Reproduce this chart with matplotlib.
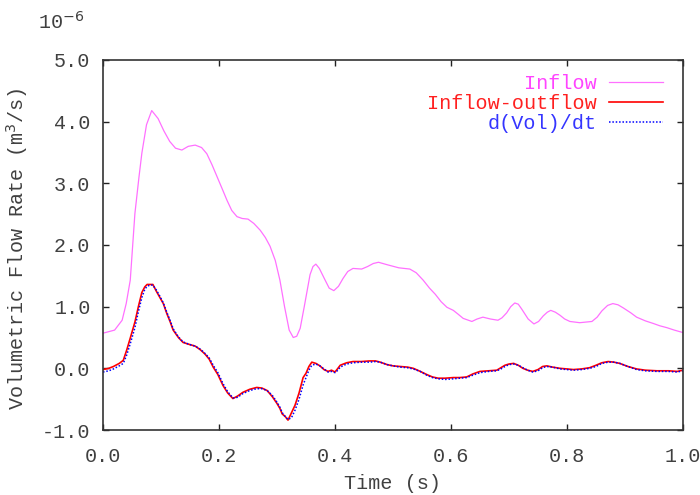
import matplotlib
matplotlib.use("Agg")
import matplotlib.pyplot as plt

# flow rates in units of 1e-6 m^3/s
t_inflow = [0.0, 0.02, 0.033, 0.04, 0.047, 0.055, 0.062, 0.067, 0.075, 0.084,
            0.095, 0.105, 0.115, 0.125, 0.136, 0.147, 0.159, 0.17, 0.179, 0.188,
            0.197, 0.206, 0.214, 0.222, 0.231, 0.24, 0.25, 0.26, 0.271, 0.28,
            0.288, 0.297, 0.305, 0.313, 0.321, 0.328, 0.334, 0.34, 0.347, 0.357,
            0.362, 0.367, 0.373, 0.383, 0.39, 0.398, 0.406, 0.414, 0.422, 0.431,
            0.446, 0.456, 0.466, 0.475, 0.49, 0.51, 0.529, 0.54, 0.552, 0.563,
            0.573, 0.583, 0.593, 0.604, 0.612, 0.621, 0.636, 0.645, 0.655, 0.668,
            0.681, 0.688, 0.696, 0.703, 0.71, 0.716, 0.722, 0.733, 0.743, 0.751,
            0.759, 0.766, 0.772, 0.78, 0.788, 0.796, 0.805, 0.822, 0.843, 0.852,
            0.86, 0.87, 0.879, 0.888, 0.897, 0.91, 0.92, 0.935, 0.948, 0.96,
            0.972, 0.985, 1.0]
inflow = [0.57, 0.62, 0.78, 1.05, 1.43, 2.51, 3.1, 3.49, 3.95, 4.18,
          4.05, 3.85, 3.68, 3.57, 3.54, 3.6, 3.62, 3.58, 3.48, 3.3,
          3.1, 2.9, 2.72, 2.56, 2.46, 2.43, 2.42, 2.35, 2.24, 2.12,
          1.98, 1.75, 1.43, 1.0, 0.62, 0.5, 0.52, 0.65, 1.0, 1.52,
          1.65, 1.69, 1.62, 1.43, 1.3, 1.26, 1.33, 1.46, 1.57, 1.62,
          1.61, 1.65, 1.7, 1.72, 1.68, 1.63, 1.61, 1.55, 1.43, 1.3,
          1.2, 1.08, 0.99, 0.94, 0.88, 0.81, 0.76, 0.8, 0.83, 0.8,
          0.78, 0.82, 0.9, 1.0, 1.06, 1.04, 0.96, 0.8, 0.72, 0.76,
          0.85, 0.91, 0.94, 0.91, 0.86, 0.8, 0.76, 0.74, 0.76, 0.83,
          0.93, 1.02, 1.05, 1.03, 0.98, 0.9, 0.83, 0.77, 0.73, 0.69,
          0.66, 0.62, 0.58]

t_net = [0.0, 0.01, 0.018, 0.028, 0.035, 0.041, 0.047, 0.055, 0.061, 0.067,
         0.072, 0.076, 0.081, 0.086, 0.092, 0.098, 0.104, 0.11, 0.116, 0.121,
         0.13, 0.138, 0.148, 0.159, 0.168, 0.176, 0.183, 0.19, 0.198, 0.207,
         0.215, 0.224, 0.232, 0.241, 0.253, 0.265, 0.274, 0.283, 0.292, 0.3,
         0.305, 0.309, 0.314, 0.319, 0.325, 0.331, 0.338, 0.345, 0.35, 0.355,
         0.36, 0.367, 0.374, 0.381, 0.388, 0.394, 0.4, 0.405, 0.409, 0.42,
         0.431, 0.445, 0.46, 0.47, 0.478, 0.49, 0.5, 0.512, 0.525, 0.535,
         0.547, 0.558, 0.568, 0.578, 0.59, 0.604, 0.615, 0.627, 0.638, 0.65,
         0.665, 0.679, 0.686, 0.693, 0.7, 0.708, 0.716, 0.724, 0.732, 0.741,
         0.75, 0.758, 0.765, 0.775, 0.788, 0.8, 0.811, 0.825, 0.839, 0.85,
         0.86, 0.871, 0.881, 0.891, 0.905, 0.92, 0.935, 0.955, 0.975, 0.99,
         1.0]
net_flow = [-0.02, 0.0, 0.03, 0.08, 0.13, 0.3, 0.49, 0.75, 1.0, 1.23,
            1.32, 1.36, 1.36, 1.36, 1.25, 1.15, 1.05, 0.89, 0.75, 0.62,
            0.5, 0.42, 0.39, 0.36, 0.3, 0.23, 0.15, 0.02, -0.1, -0.28,
            -0.4, -0.49, -0.45, -0.39, -0.34, -0.31, -0.32, -0.36, -0.46, -0.57,
            -0.65, -0.74, -0.78, -0.84, -0.72, -0.6, -0.4, -0.15, -0.08, 0.03,
            0.1, 0.08, 0.04, -0.02, -0.05, -0.03, -0.06, 0.0, 0.05, 0.09,
            0.11, 0.11, 0.12, 0.12, 0.1, 0.06, 0.04, 0.03, 0.02, 0.0,
            -0.05, -0.1, -0.14, -0.16, -0.16, -0.15, -0.15, -0.14, -0.09, -0.05,
            -0.04, -0.03, 0.01, 0.05, 0.07, 0.08, 0.05, 0.0, -0.03, -0.05,
            -0.02, 0.03, 0.04, 0.02, 0.0, -0.01, -0.02, -0.01, 0.01, 0.05,
            0.09, 0.11, 0.1, 0.08, 0.03, -0.01, -0.03, -0.04, -0.04, -0.05,
            -0.03]
dvol_dt = [-0.06, -0.04, -0.01, 0.04, 0.08, 0.22, 0.4, 0.66, 0.92, 1.15,
           1.28, 1.33, 1.35, 1.35, 1.27, 1.17, 1.06, 0.91, 0.77, 0.64,
           0.51, 0.43, 0.39, 0.36, 0.31, 0.24, 0.17, 0.05, -0.07, -0.25,
           -0.38, -0.48, -0.47, -0.41, -0.36, -0.33, -0.33, -0.36, -0.44, -0.55,
           -0.63, -0.72, -0.78, -0.83, -0.8, -0.68, -0.5, -0.27, -0.15, -0.03,
           0.05, 0.07, 0.04, -0.01, -0.06, -0.05, -0.07, -0.03, 0.02, 0.07,
           0.09, 0.1, 0.1, 0.11, 0.1, 0.06, 0.04, 0.02, 0.01, -0.01,
           -0.05, -0.11, -0.15, -0.17, -0.18, -0.17, -0.16, -0.15, -0.11, -0.07,
           -0.05, -0.04, -0.01, 0.03, 0.06, 0.07, 0.05, 0.01, -0.03, -0.06,
           -0.04, 0.01, 0.03, 0.02, -0.01, -0.02, -0.03, -0.02, 0.0, 0.03,
           0.08, 0.1, 0.1, 0.08, 0.03, -0.02, -0.04, -0.05, -0.05, -0.06,
           -0.04]

x_ticks = [0.0, 0.2, 0.4, 0.6, 0.8, 1.0]
y_ticks = [-1.0, 0.0, 1.0, 2.0, 3.0, 4.0, 5.0]

plt.rcParams['font.family'] = ['Liberation Mono', 'DejaVu Sans Mono']
txt = '#404040'

fig = plt.figure(figsize=(7, 4.95), dpi=100)
ax = fig.add_axes([103 / 700, 65 / 495, 580 / 700, 370 / 495])

ax.plot(t_inflow, inflow, color='#ff70ff', lw=0.9, label='Inflow')
ax.plot(t_net, net_flow, color='#ff0000', lw=1.2, label='Inflow-outflow')
ax.plot(t_net, dvol_dt, color='#0000ff', lw=1.1, ls=(0, (1, 1.2)), label='d(Vol)/dt')

ax.set_xlim(0, 1)
ax.set_ylim(-1, 5)
ax.set_xticks(x_ticks)
ax.set_yticks(y_ticks)
ax.set_xticklabels([f"{v:.1f}" for v in x_ticks])
ax.set_yticklabels([f"{v:.1f}" for v in y_ticks])
ax.tick_params(direction='in', length=4, width=1, top=True, right=True,
               labelsize=14.5, labelcolor=txt, color='#222222', pad=9)
ax.tick_params(axis='x', pad=12)
for s in ax.spines.values():
    s.set_color('#333333')
    s.set_linewidth(1.2)

ax.set_xlabel('Time (s)', fontsize=14.5, color=txt, labelpad=6)
ax.set_ylabel('Volumetric Flow Rate (m$^3$/s)', fontsize=14.5, color=txt)
ax.yaxis.set_label_coords(-0.125, 0.49)
fig.text(38 / 700, 1 - 22 / 495, '10$^{-6}$', fontsize=14.5, color=txt, va='center')

leg = ax.legend(loc='upper right', bbox_to_anchor=((663 - 103) / 580, (430 - 74) / 370),
                frameon=False, markerfirst=False, fontsize=14.5,
                handlelength=2.7, handletextpad=0.6, labelspacing=0.05,
                borderpad=0, borderaxespad=0)
for t, c in zip(leg.get_texts(), ['#ff44ff', '#ff2020', '#3535ff']):
    t.set_color(c)

fig.savefig('out.png', dpi=100)
